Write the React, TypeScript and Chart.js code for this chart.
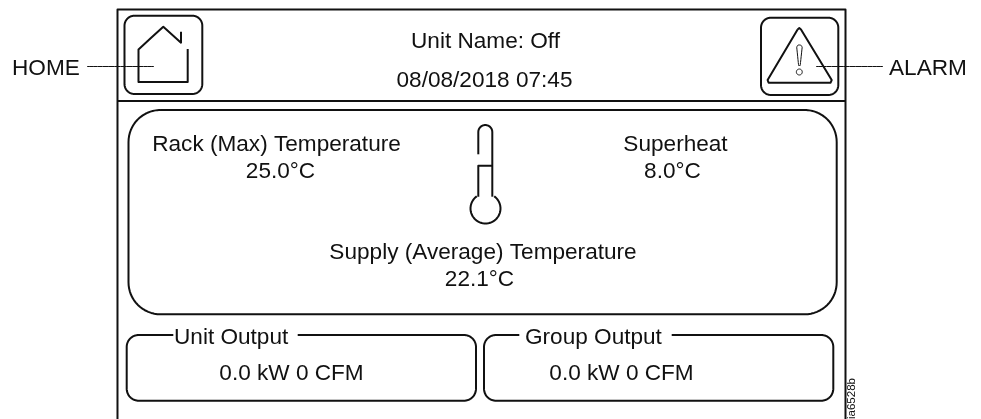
import React, { useEffect, useRef } from "react";
import { Chart, registerables } from "chart.js";

Chart.register(...registerables);

type P = { x: number; y: number };

const INK = "#111111";

// Straight strokes of the panel drawing, [x, y] pairs in picture units.
const frameLeft = [[117.5, 419], [117.5, 9.5], [845.5, 9.5], [845.5, 419]];
const headerRule = [[117.5, 101], [845.5, 101]];
const houseOutline = [[187.7, 49], [187.7, 82], [138.5, 82], [138.5, 49.5], [163.3, 26.7], [181, 42.7], [181, 31.7]];
const homeLeader = [[87, 66.5], [154, 66.5]];
const alarmLeader = [[816, 66.5], [883, 66.5]];
const exclamation = [[796.7, 47], [798, 45], [800.7, 45], [802.2, 47], [800.2, 65.5], [798.6, 65.5], [796.7, 47]];
const triangle = [[797.6, 29.4], [799.3, 28], [801, 29.4], [831.7, 80], [830.6, 82.7], [768.6, 82.7], [767.6, 80], [797.6, 29.4]];
const thermoCross = [[478.3, 196.7], [478.3, 165.7], [492.3, 165.7]];
const thermoRight = [[492.3, 132], [492.3, 196.7]];
const thermoLeft = [[478.3, 154.3], [478.3, 132]];

// Rounded boxes: left, top, right, bottom, radius.
const homeButton = [124.5, 15.7, 202.3, 94, 10];
const alarmButton = [761, 17.7, 838.3, 95, 10];
const mainPanel = [128.5, 110, 836.7, 314.3, 32];
const unitBox = [126.7, 335, 476, 400.7, 12];
const groupBox = [484, 335, 833.3, 400.7, 12];
const unitGap = [173.3, 297.7];
const groupGap = [519.3, 671.7];

// Text: label, x, baseline y, alignment.
const labels: [string, number, number, CanvasTextAlign][] = [
  ["HOME", 12, 75, "left"],
  ["ALARM", 889, 75, "left"],
  ["Unit Name: Off", 485.5, 48, "center"],
  ["08/08/2018 07:45", 484.5, 87, "center"],
  ["Rack (Max) Temperature", 276.5, 151, "center"],
  ["25.0°C", 280.5, 178, "center"],
  ["Superheat", 675.5, 151, "center"],
  ["8.0°C", 672.5, 178, "center"],
  ["Supply (Average) Temperature", 483, 259, "center"],
  ["22.1°C", 479.5, 286, "center"],
  ["Unit Output", 174, 344, "left"],
  ["Group Output", 525, 344, "left"],
  ["0.0 kW 0 CFM", 291.5, 380, "center"],
  ["0.0 kW 0 CFM", 621.5, 380, "center"],
];
const figureId = "ia6528b";

const toPts = (a: number[][]): P[] => a.map(([x, y]) => ({ x, y }));

function arc(cx: number, cy: number, r: number, a0: number, a1: number, steps = 16): P[] {
  const out: P[] = [];
  for (let i = 0; i <= steps; i++) {
    const t = a0 + ((a1 - a0) * i) / steps;
    out.push({ x: cx + r * Math.cos(t), y: cy + r * Math.sin(t) });
  }
  return out;
}

function rounded([l, t, r, b, rad]: number[], gap?: number[]): P[] {
  const h = Math.PI / 2;
  const start: P[] = gap ? [{ x: gap[1], y: t }] : [{ x: l + rad, y: t }];
  const end: P[] = gap ? [{ x: gap[0], y: t }] : [{ x: l + rad, y: t }];
  return [
    ...start,
    ...arc(r - rad, t + rad, rad, -h, 0),
    ...arc(r - rad, b - rad, rad, 0, h),
    ...arc(l + rad, b - rad, rad, h, 2 * h),
    ...arc(l + rad, t + rad, rad, 2 * h, 3 * h),
    ...end,
  ];
}

const line = (data: P[], borderWidth = 2) => ({
  data,
  showLine: true,
  borderColor: INK,
  borderWidth,
  borderJoinStyle: "round",
  pointRadius: 0,
  fill: false,
  // a vanishing tension keeps every vertex (the straight-line path merges points sharing a pixel column)
  tension: 0.0001,
  clip: false,
});

export default function App() {
  const ref = useRef<HTMLCanvasElement>(null);
  useEffect(() => {
    if (!ref.current) return;
    const textPlugin = {
      id: "panelText",
      afterDatasetsDraw(c: any) {
        const { ctx, scales } = c;
        ctx.save();
        ctx.fillStyle = INK;
        ctx.textBaseline = "alphabetic";
        ctx.font = '22.6px "Liberation Sans", Arial, sans-serif';
        for (const [s, x, y, align] of labels) {
          ctx.textAlign = align;
          ctx.fillText(s, scales.x.getPixelForValue(x), scales.y.getPixelForValue(y));
        }
        ctx.translate(scales.x.getPixelForValue(855), scales.y.getPixelForValue(419));
        ctx.rotate(-Math.PI / 2);
        ctx.textAlign = "left";
        ctx.font = '11.5px "Liberation Sans", Arial, sans-serif';
        ctx.fillText(figureId, 0, 0);
        ctx.restore();
      },
    };
    const chart = new Chart(ref.current, {
      type: "scatter",
      data: {
        datasets: [
          line(toPts(frameLeft)),
          line(toPts(headerRule)),
          line(rounded(homeButton)),
          line(rounded(alarmButton)),
          line(toPts(houseOutline)),
          line(toPts(homeLeader), 1),
          line(toPts(alarmLeader), 1),
          line(toPts(triangle)),
          line(toPts(exclamation), 1),
          line(arc(799.3, 72, 3, 0, 2 * Math.PI), 1),
          line(rounded(mainPanel)),
          line(toPts(thermoCross)),
          line(toPts(thermoRight)),
          line(toPts(thermoLeft)),
          line(arc(485.3, 132, 7, Math.PI, 2 * Math.PI)),
          line(arc(485.5, 208.5, 15, -0.95, Math.PI + 0.95, 40)),
          line(rounded(unitBox, unitGap)),
          line(rounded(groupBox, groupGap)),
        ],
      },
      options: {
        animation: false,
        responsive: false,
        layout: { padding: 0 },
        plugins: { legend: { display: false }, tooltip: { enabled: false } },
        scales: {
          x: { type: "linear", min: 0, max: 981, display: false },
          y: { type: "linear", min: 0, max: 419, reverse: true, display: false },
        },
      },
      plugins: [textPlugin],
    } as any);
    return () => chart.destroy();
  }, []);
  return (
    <div style={{ position: "fixed", left: 0, top: 0, width: 981, height: 419, background: "#fff" }}>
      <canvas ref={ref} width={981} height={419} style={{ display: "block" }} />
    </div>
  );
}
